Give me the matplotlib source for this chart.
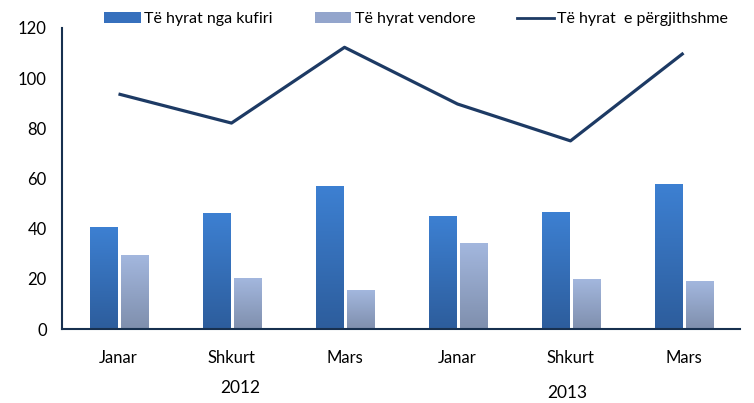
import numpy as np
import matplotlib
matplotlib.use("Agg")
import matplotlib.pyplot as plt
from matplotlib.colors import LinearSegmentedColormap
from matplotlib.patches import Patch
from matplotlib.lines import Line2D

plt.rcParams['font.family'] = ['Lato', 'DejaVu Sans']

months = ["Janar", "Shkurt", "Mars", "Janar", "Shkurt", "Mars"]
years = ["2012", "2013"]
kufiri = [40.3, 45.9, 57.0, 44.7, 46.3, 57.8]
vendore = [29.5, 20.3, 15.2, 33.9, 19.9, 19.1]
total = [93.7, 82.1, 112.3, 89.7, 75.0, 110.0]
labels = ["Të hyrat nga kufiri", "Të hyrat vendore", "Të hyrat  e përgjithshme"]

fig = plt.figure(figsize=(7.54, 4.03), dpi=100)
ax = fig.add_axes([62/754, 1-329/403, 678/754, 301/403])

x = np.arange(len(months))
w = 0.24
cmap_dark = LinearSegmentedColormap.from_list("d", ["#2d5d9c", "#3d80d2"])
cmap_light = LinearSegmentedColormap.from_list("l", ["#7f8fad", "#a3b7de"])
grad = np.linspace(0, 1, 256).reshape(-1, 1)

def gbars(xs, vals, cmap):
    bars = ax.bar(xs, vals, width=w, color='none', edgecolor='none', zorder=2)
    for b, v in zip(bars, vals):
        x0 = b.get_x()
        ax.imshow(grad, extent=[x0, x0 + w, 0, v], origin='lower', aspect='auto',
                  cmap=cmap, zorder=2)
    return bars

gbars(x - 0.128, kufiri, cmap_dark)
gbars(x + 0.146, vendore, cmap_light)
ax.plot(x, total, color="#1d3a64", lw=2.3, zorder=3, solid_capstyle='butt')

ax.set_xlim(-0.5, 5.5)
ax.set_ylim(0, 120)
ax.set_yticks(range(0, 121, 20))
ax.set_xticks(x)
ax.set_xticklabels(months)
ax.tick_params(axis='both', length=0, labelsize=12, colors='black')
ax.tick_params(axis='y', pad=11)
ax.tick_params(axis='x', pad=15)
for s in ['top', 'right']:
    ax.spines[s].set_visible(False)
for s in ['left', 'bottom']:
    ax.spines[s].set_color("#17304f")
    ax.spines[s].set_linewidth(1.5)

fig.text(240/754, 1-388/403, years[0], ha='center', va='center', fontsize=12.5)
fig.text(567/754, 1-393/403, years[1], ha='center', va='center', fontsize=12.5)

handles = [Patch(facecolor="#3670bd", edgecolor='none'),
           Patch(facecolor="#93a5cc", edgecolor='none'),
           Line2D([0], [0], color="#1d3a64", lw=2)]
fig.legend(handles, labels, loc='center', bbox_to_anchor=(416/754, 1-19/403), ncol=3,
           frameon=False, fontsize=11.5, handlelength=2.3, handleheight=0.75,
           handletextpad=0.2, columnspacing=2.65, borderpad=0, borderaxespad=0)

fig.savefig("out.png", dpi=100)
